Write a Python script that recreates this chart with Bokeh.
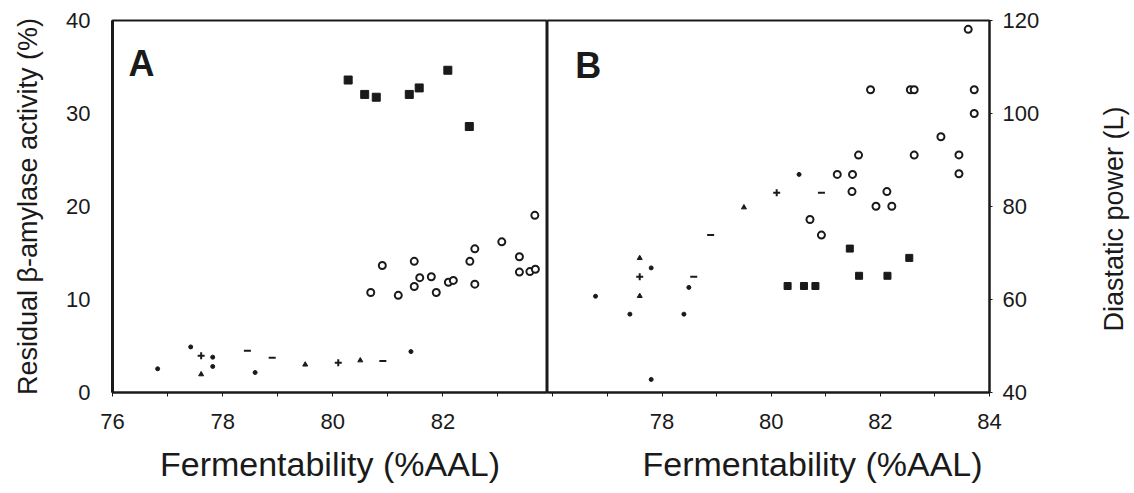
from bokeh.plotting import figure
from bokeh.layouts import row
from bokeh.models import FixedTicker, Range1d, Title, Label
from bokeh.embed import file_html
from bokeh.resources import INLINE

# ---------------- Panel A: residual beta-amylase activity (%) ----------------
sq_a_x = [80.28, 80.58, 80.79, 81.39, 81.57, 82.09, 82.48]
sq_a_y = [33.6, 32.05, 31.75, 32.05, 32.75, 34.65, 28.6]

circ_a_x = [83.67, 83.07, 82.58, 83.39, 80.90, 81.48, 82.49, 83.39, 83.58, 83.68,
            81.58, 81.79, 81.48, 82.10, 82.19, 82.58, 80.69, 81.19, 81.88]
circ_a_y = [19.05, 16.2, 15.45, 14.6, 13.65, 14.1, 14.1, 12.95, 13.0, 13.25,
            12.35, 12.45, 11.4, 11.85, 12.05, 11.65, 10.75, 10.45, 10.75]

dot_a_x = [76.82, 77.42, 77.82, 77.82, 78.59, 81.42]
dot_a_y = [2.55, 4.9, 3.8, 2.8, 2.15, 4.4]
tri_a_x = [77.61, 79.50, 80.50]
tri_a_y = [1.95, 3.0, 3.45]
crs_a_x = [77.61, 80.10]
crs_a_y = [3.95, 3.2]
tee_a_x = [78.45, 78.90, 80.91]
tee_a_y = [4.5, 3.75, 3.4]

# ---------------- Panel B: diastatic power (L) ----------------
sq_b_x = [80.30, 80.60, 80.81, 81.44, 81.61, 82.13, 82.53]
sq_b_y = [62.9, 62.9, 62.9, 70.95, 65.1, 65.1, 68.95]

circ_b_x = [83.61, 81.82, 82.55, 82.62, 83.72, 83.72, 83.11, 81.60, 82.62, 83.44,
            83.44, 81.21, 81.49, 81.48, 82.12, 81.92, 82.21, 80.71, 80.92]
circ_b_y = [118.1, 105.1, 105.1, 105.1, 105.1, 100.0, 95.0, 91.05, 91.05, 91.1,
            87.05, 86.9, 86.9, 83.2, 83.2, 80.05, 80.05, 77.2, 73.85]

dot_b_x = [80.51, 77.80, 78.49, 76.78, 77.41, 78.40, 77.80]
dot_b_y = [86.9, 66.8, 62.6, 60.7, 56.85, 56.85, 42.8]
tri_b_x = [79.50, 77.59, 77.59]
tri_b_y = [79.8, 68.9, 60.75]
crs_b_x = [80.10, 77.59]
crs_b_y = [82.95, 64.9]
tee_b_x = [80.92, 78.89, 78.58]
tee_b_y = [82.95, 73.85, 64.9]

a_major = [76, 78, 80, 82]
a_minor = [77, 79, 81, 83]
b_major = [78, 80, 82, 84]
b_minor = [76, 77, 79, 81, 83]
a_yticks = [0, 10, 20, 30, 40]
b_yticks = [40, 60, 80, 100, 120]

xlabel = "Fermentability (%AAL)"
ylabel_a = "Residual \u03b2-amylase activity (%)"
ylabel_b = "Diastatic power (L)"

FONT = "Liberation Sans"
INK = "#1a1a1a"
TOP = 20
BOTTOM = 99


def style_common(p):
    p.xgrid.visible = False
    p.ygrid.visible = False
    p.outline_line_color = INK
    p.outline_line_width = 2
    p.background_fill_color = "white"
    p.border_fill_color = "white"


def style_xaxis(ax, major, minor):
    ax.ticker = FixedTicker(ticks=major, minor_ticks=minor)
    ax.major_tick_out = 4
    ax.major_tick_in = 0
    ax.minor_tick_out = 4
    ax.minor_tick_in = 0
    ax.axis_line_width = 2
    ax.axis_line_color = INK
    ax.major_tick_line_color = INK
    ax.minor_tick_line_color = INK
    ax.major_label_text_font = FONT
    ax.major_label_text_font_size = "22px"
    ax.major_label_text_color = INK
    ax.major_label_standoff = 17


def draw_points(p, sq_x, sq_y, sq_size, cx, cy, dx, dy, tx, ty, kx, ky, ex, ey):
    p.scatter(sq_x, sq_y, marker="square", size=sq_size, fill_color=INK, line_color=INK)
    p.scatter(cx, cy, marker="circle", size=7, fill_color="white", line_color=INK, line_width=2)
    p.scatter(dx, dy, marker="circle", size=4, fill_color=INK, line_color=INK)
    p.scatter(tx, ty, marker="triangle", size=5, fill_color=INK, line_color=INK)
    p.scatter(kx, ky, marker="cross", size=7, line_color=INK, line_width=2)
    p.scatter(ex, ey, marker="dash", size=7, line_color=INK, line_width=2)


# ---------- A ----------
pA = figure(width=547, height=493, x_range=Range1d(76, 83.9), y_range=Range1d(0, 40),
            output_backend="svg", toolbar_location=None,
            min_border_left=112, min_border_right=0, min_border_top=TOP, min_border_bottom=BOTTOM)
style_common(pA)
draw_points(pA, sq_a_x, sq_a_y, 8, circ_a_x, circ_a_y, dot_a_x, dot_a_y,
            tri_a_x, tri_a_y, crs_a_x, crs_a_y, tee_a_x, tee_a_y)
style_xaxis(pA.xaxis[0], a_major, a_minor)

ya = pA.yaxis[0]
ya.ticker = FixedTicker(ticks=a_yticks, minor_ticks=[])
ya.major_tick_out = 0
ya.major_tick_in = 0
ya.axis_line_width = 3
ya.axis_line_color = INK
ya.major_label_text_font = FONT
ya.major_label_text_font_size = "22px"
ya.major_label_text_color = INK
ya.major_label_standoff = 22
ya.axis_label = ylabel_a
ya.axis_label_text_font = FONT
ya.axis_label_text_font_size = "27px"
ya.axis_label_text_font_style = "normal"
ya.axis_label_text_color = INK
ya.axis_label_standoff = 20

pA.add_layout(Title(text=xlabel, align="center", text_font=FONT, text_font_size="34px",
                    text_font_style="normal", text_color=INK, standoff=22), "below")
pA.add_layout(Label(x=76.29, y=35.4, text="A", text_font=FONT, text_font_size="36px",
                    text_font_style="bold", text_color=INK, text_align="left",
                    text_baseline="alphabetic"))

# ---------- B ----------
pB = figure(width=543, height=493, x_range=Range1d(75.9, 84.0), y_range=Range1d(40, 120),
            output_backend="svg", toolbar_location=None, y_axis_location="right",
            min_border_left=0, min_border_right=101, min_border_top=TOP, min_border_bottom=BOTTOM)
style_common(pB)
draw_points(pB, sq_b_x, sq_b_y, 7, circ_b_x, circ_b_y, dot_b_x, dot_b_y,
            tri_b_x, tri_b_y, crs_b_x, crs_b_y, tee_b_x, tee_b_y)
style_xaxis(pB.xaxis[0], b_major, b_minor)

yb = pB.yaxis[0]
yb.ticker = FixedTicker(ticks=b_yticks, minor_ticks=[])
yb.major_tick_out = 3
yb.major_tick_in = 0
yb.axis_line_width = 2
yb.axis_line_color = INK
yb.major_tick_line_color = INK
yb.major_label_text_font = FONT
yb.major_label_text_font_size = "22px"
yb.major_label_text_color = INK
yb.major_label_standoff = 10

pB.add_layout(Title(text=xlabel, align="left", offset=95, text_font=FONT, text_font_size="34px",
                    text_font_style="normal", text_color=INK, standoff=22), "below")
pB.add_layout(Label(x=76.41, y=110.4, text="B", text_font=FONT, text_font_size="36px",
                    text_font_style="bold", text_color=INK, text_align="left",
                    text_baseline="alphabetic"))

# ---------- strip that carries the right-hand axis title (reads bottom-to-top) ----------
pC = figure(width=44, height=493, x_axis_type=None, y_axis_type=None,
            output_backend="svg", toolbar_location=None,
            min_border_left=40, min_border_right=0, min_border_top=TOP, min_border_bottom=BOTTOM)
pC.outline_line_color = None
pC.xgrid.visible = False
pC.ygrid.visible = False
pC.border_fill_color = "white"
pC.add_layout(Title(text=ylabel_b, align="left", offset=61, text_font=FONT, text_font_size="27px",
                    text_font_style="normal", text_color=INK, standoff=4), "left")

layout = row(pA, pB, pC)
open("out.html", "w").write(file_html(layout, INLINE))
